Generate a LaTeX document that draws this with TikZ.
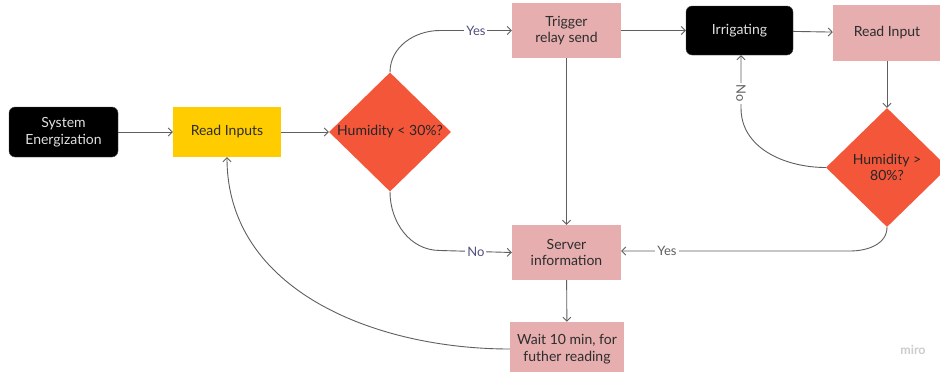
\documentclass[tikz,border=0pt]{standalone}
\usepackage{fontspec}
\setmainfont{Lato}
\usetikzlibrary{shapes.geometric,arrows.meta}
\definecolor{pinkbox}{RGB}{230,174,174}
\definecolor{redd}{RGB}{244,86,58}
\definecolor{yell}{RGB}{255,204,0}
\definecolor{linec}{RGB}{95,95,95}
\definecolor{navy}{RGB}{80,80,125}
\definecolor{txt}{RGB}{45,45,45}
\tikzset{
  base/.style={font=\fontsize{14}{16.5}\selectfont, align=center, inner sep=0pt, text=txt},
  blackbox/.style={base, fill=black, draw=black!70, rounded corners=6pt, text=white!88!black, minimum width=109pt, minimum height=50pt},
  pinkrect/.style={base, fill=pinkbox, minimum width=109pt, minimum height=55pt},
  yellrect/.style={base, fill=yell, minimum width=108pt, minimum height=50pt},
  decide/.style={base, diamond, fill=redd, minimum width=122pt, minimum height=119pt, text=black!85},
  arr/.style={draw=linec, line width=0.9pt, -{Straight Barb[length=4pt,width=8pt]}},
  lbl/.style={font=\fontsize{13}{15}\selectfont, fill=white, inner sep=2pt},
}
\begin{document}
\begin{tikzpicture}[x=1pt,y=-1pt]
\useasboundingbox (0,0) rectangle (940,372);
\clip (0,0) rectangle (940,372);
\fill[white] (0,0) rectangle (940,372);
\node[blackbox] (se) at (63.5,132) {System\\Energization};
\node[yellrect] (ri) at (227,132) {Read Inputs};
\node[decide] (d1) at (390,132) {Humidity < 30\%?};
\node[pinkrect] (trig) at (566.5,30.5) {Trigger\\relay send};
\node[blackbox, minimum width=107pt, minimum height=49pt] (irr) at (739.5,30.5) {Irrigating};
\node[pinkrect, minimum width=108pt, minimum height=56pt] (rin) at (887,33) {Read Input};
\node[decide] (d2) at (887,167.5) {Humidity >\\80\%?};
\node[pinkrect] (srv) at (566.5,252.5) {Server\\information};
\node[pinkrect, minimum width=114pt, minimum height=54pt] (wait) at (567,349) {Wait 10 min, for\\futher reading};
\node[font=\bfseries\fontsize{12.5}{14}\selectfont, text=black!20] (miro) at (913,350) {miro};

\coordinate (c1) at (440,30.5);
\coordinate (c2) at (440,250.5);
\coordinate (c3) at (741,108);
\coordinate (c4) at (850,251);

\draw[arr] (se) -- (ri);
\draw[arr] (ri) -- (d1);
\draw[arr] (d1.north) to[out=90,in=180] (c1) -- node[lbl,text=navy]{Yes} (trig.west);
\draw[arr] (d1.south) to[out=-90,in=180] (c2) -- node[lbl,text=navy]{No} (srv.west);
\draw[arr] (trig) -- (srv);
\draw[arr] (trig) -- (irr);
\draw[arr] (irr) -- (rin);
\draw[arr] (rin) -- (d2);
\draw[arr] (d2.west) to[out=180,in=-90] (c3) -- node[lbl,pos=0.28,rotate=-90,text=linec]{No} (c3 |- irr.south);
\draw[arr] (d2.south) to[out=-90,in=0] (c4) -- node[lbl,pos=0.8,text=linec]{Yes} (c4 -| srv.east);
\draw[arr] (srv) -- (wait);
\draw[arr] (wait.west) to[out=180,in=-90] (ri.south);
\end{tikzpicture}
\end{document}
